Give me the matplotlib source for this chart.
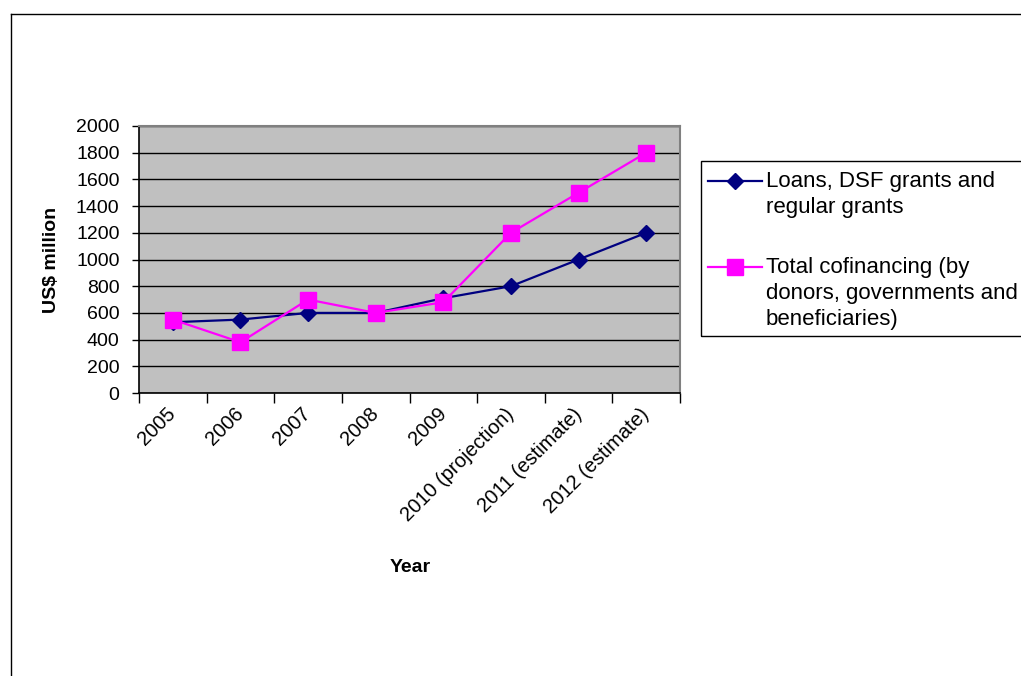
import matplotlib
matplotlib.use('Agg')
import matplotlib.pyplot as plt
from matplotlib.lines import Line2D
from matplotlib.patches import Rectangle

plt.rcParams['font.family'] = ['Liberation Sans', 'DejaVu Sans']

# data
years = ['2005', '2006', '2007', '2008', '2009',
         '2010 (projection)', '2011 (estimate)', '2012 (estimate)']
loans = [530, 550, 600, 600, 710, 800, 1000, 1200]
cofinancing = [550, 380, 700, 600, 680, 1200, 1500, 1800]
label_loans = 'Loans, DSF grants and\nregular grants'
label_cofin = 'Total cofinancing (by\ndonors, governments and\nbeneficiaries)'

W, H = 1021, 676
fig = plt.figure(figsize=(W / 100, H / 100), dpi=100)


def fx(px):
    return px / W


def fy(py):
    return 1 - py / H


# axes placed in pixel terms: x 139..680, y 126..393
ax = fig.add_axes([fx(139), fy(393), fx(680) - fx(139), fy(126) - fy(393)])
ax.set_facecolor('#C0C0C0')

x = list(range(len(years)))
ax.plot(x, loans, color='#000080', lw=1.6, marker='D', ms=8,
        mfc='#000080', mec='#000080', zorder=3)
ax.plot(x, cofinancing, color='#FF00FF', lw=1.6, marker='s', ms=11,
        mfc='#FF00FF', mec='#FF00FF', zorder=4)

ax.set_xlim(-0.5, len(years) - 0.5)
ax.set_ylim(0, 2000)
ax.set_yticks(range(0, 2001, 200))
ax.yaxis.grid(True, color='black', lw=1)
ax.set_axisbelow(True)

# category ticks on boundaries, labels at centres
ax.set_xticks([i - 0.5 for i in range(len(years) + 1)])
ax.set_xticklabels([])
ax.set_xticks(x, minor=True)
ax.set_xticklabels(years, minor=True, rotation=45, ha='right', va='center',
                   rotation_mode='anchor', fontsize=14.5)
ax.tick_params(axis='x', which='minor', length=0, pad=13)
ax.tick_params(axis='x', which='major', length=7, width=1, color='black')
ax.tick_params(axis='y', length=5, width=1, labelsize=14, pad=9)

for s in ['top', 'right']:
    ax.spines[s].set_color('#808080')
    ax.spines[s].set_linewidth(1.5)
for s in ['left', 'bottom']:
    ax.spines[s].set_color('black')
    ax.spines[s].set_linewidth(1.2)

fig.text(fx(52), fy(260), 'US$ million', fontsize=14, fontweight='bold',
         rotation=90, ha='center', va='center')
fig.text(fx(410), fy(568), 'Year', fontsize=14, fontweight='bold',
         ha='center', va='center')

# outer chart frame (runs off right and bottom edges)
fig.add_artist(Line2D([fx(11), fx(11)], [fy(14), fy(H + 5)],
                      transform=fig.transFigure, color='black', lw=1))
fig.add_artist(Line2D([fx(11), fx(W + 5)], [fy(14), fy(14)],
                      transform=fig.transFigure, color='black', lw=1))

# legend box, drawn by hand so the handles sit on the first text line
fig.add_artist(Rectangle((fx(701), fy(336)), fx(W + 10) - fx(701),
                         fy(161) - fy(336), transform=fig.transFigure,
                         fill=False, ec='black', lw=1))
for ypx, col, mk, ms, lab in [(181, '#000080', 'D', 8, label_loans),
                              (267, '#FF00FF', 's', 11, label_cofin)]:
    fig.add_artist(Line2D([fx(708), fx(762)], [fy(ypx), fy(ypx)],
                          transform=fig.transFigure, color=col, lw=1.6))
    fig.add_artist(Line2D([fx(735)], [fy(ypx)], transform=fig.transFigure,
                          marker=mk, ms=ms, mfc=col, mec=col, ls='none'))
    fig.text(fx(766), fy(ypx - 10), lab, fontsize=16, ha='left', va='top',
             linespacing=1.3)

fig.savefig('out.png', dpi=100)
